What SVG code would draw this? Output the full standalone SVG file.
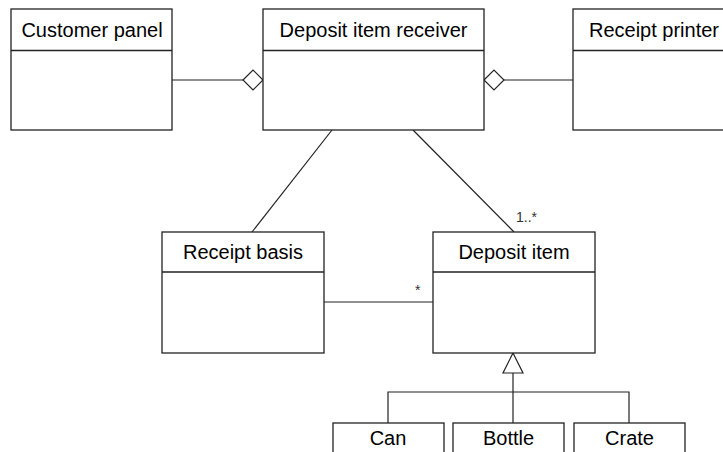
<svg xmlns="http://www.w3.org/2000/svg" width="723" height="452" viewBox="0 0 723 452">
<style>
.box{fill:#fff;stroke:#222;stroke-width:1.3}
.sep{stroke:#222;stroke-width:1.3}
.t{font-family:"Liberation Sans",Arial,sans-serif;font-size:20px;fill:#000;text-anchor:middle}
.m{font-family:"Liberation Sans",Arial,sans-serif;font-size:14px;fill:#333}
.c{stroke:#222;stroke-width:1.2;fill:none}
.dia{fill:#fff;stroke:#222;stroke-width:1.2}
</style>
<rect width="723" height="452" fill="#fff"/>
<g id="connectors">
<line class="c" x1="172" y1="80" x2="243" y2="80"/>
<polygon class="dia" points="243,80 253,70 263,80 253,90"/>
<line class="c" x1="504" y1="80" x2="573" y2="80"/>
<polygon class="dia" points="484,80 494,70 504,80 494,90"/>
<line class="c" x1="332" y1="130" x2="252" y2="232"/>
<line class="c" x1="413" y1="130" x2="514" y2="232"/>
<text class="m" x="516" y="222">1..*</text>
<line class="c" x1="324" y1="302" x2="433" y2="302"/>
<text class="m" x="415" y="295">*</text>
<polygon class="dia" points="513,353 503,373 523,373"/>
<line class="c" x1="513" y1="373" x2="513" y2="423"/>
<polyline class="c" points="388,423 388,392 629,392 629,423"/>
</g>
<g id="customer-panel">
<rect class="box" x="11" y="9" width="161" height="121"/>
<line class="sep" x1="11" y1="50.5" x2="172" y2="50.5"/>
<text class="t" x="92" y="37">Customer panel</text>
</g>
<g id="deposit-item-receiver">
<rect class="box" x="263" y="9" width="221" height="121"/>
<line class="sep" x1="263" y1="50.5" x2="484" y2="50.5"/>
<text class="t" x="373.5" y="37">Deposit item receiver</text>
</g>
<g id="receipt-printer">
<rect class="box" x="573" y="9" width="160" height="121"/>
<line class="sep" x1="573" y1="50.5" x2="733" y2="50.5"/>
<text class="t" x="654" y="37">Receipt printer</text>
</g>
<g id="receipt-basis">
<rect class="box" x="162" y="232" width="162" height="121"/>
<line class="sep" x1="162" y1="272" x2="324" y2="272"/>
<text class="t" x="243" y="259">Receipt basis</text>
</g>
<g id="deposit-item">
<rect class="box" x="433" y="232" width="162" height="121"/>
<line class="sep" x1="433" y1="272" x2="595" y2="272"/>
<text class="t" x="514" y="259">Deposit item</text>
</g>
<g id="can">
<rect class="box" x="333" y="423" width="111" height="60"/>
<text class="t" x="388" y="445">Can</text>
</g>
<g id="bottle">
<rect class="box" x="453" y="423" width="111" height="60"/>
<text class="t" x="508.5" y="445">Bottle</text>
</g>
<g id="crate">
<rect class="box" x="574" y="423" width="111" height="60"/>
<text class="t" x="629.5" y="445">Crate</text>
</g>
</svg>
